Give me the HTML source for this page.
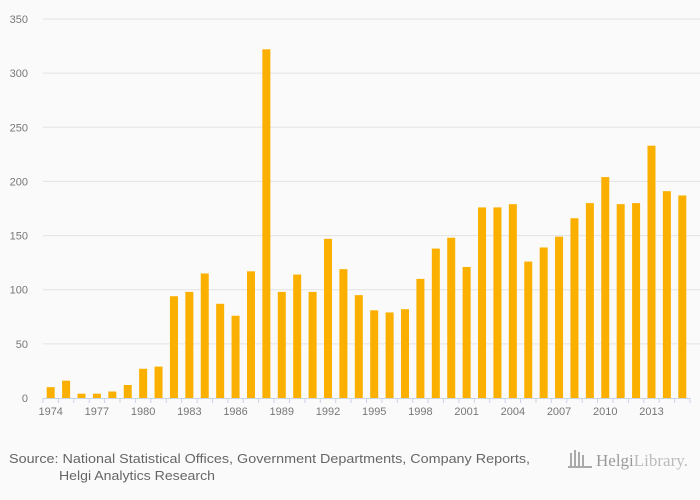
<!DOCTYPE html>
<html><head><meta charset="utf-8"><style>
body{margin:0;background:#fafafa;font-family:"Liberation Sans",sans-serif;}
svg{display:block}
</style></head><body>
<svg width="700" height="500">
<rect width="700" height="500" fill="#fafafa"/>
<g id="grid"></g><g id="bars"></g><g id="axis"></g>
<text x="9" y="463" font-size="13" fill="#666" textLength="521" lengthAdjust="spacingAndGlyphs">Source: National Statistical Offices, Government Departments, Company Reports,</text>
<text x="59" y="480" font-size="13" fill="#666" textLength="156" lengthAdjust="spacingAndGlyphs">Helgi Analytics Research</text>
<g>
<rect x="570" y="453" width="2" height="14" fill="#aaa"/><rect x="574" y="450" width="2" height="17" fill="#aaa"/><rect x="578" y="452" width="2" height="15" fill="#aaa"/><rect x="582" y="455" width="2" height="12" fill="#aaa"/><rect x="568" y="466" width="24" height="2" fill="#aaa"/>
<text x="596" y="466" font-size="17" fill="#999" font-family="Liberation Serif,serif">Helgi<tspan fill="#bbb">Library.</tspan></text>
</g>
</svg>
<script>
const years=[];for(let y=1974;y<=2015;y++)years.push(y);
const values=[10,16,4,4,6,12,27,29,94,98,115,87,76,117,322,98,114,98,147,119,95,81,79,82,110,138,148,121,176,176,179,126,139,149,166,180,204,179,180,233,191,187];
const yTicks=[0,50,100,150,200,250,300,350];
const NS="http://www.w3.org/2000/svg";
const x0=43,x1=690,y0=398,yTop=19,yMax=350;
const band=(x1-x0)/years.length;
const ys=v=>y0-(v/yMax)*(y0-yTop);
const xs=i=>x0+i*band;
function mk(t,a,p){const e=document.createElementNS(NS,t);for(const k in a)e.setAttribute(k,a[k]);p.appendChild(e);return e;}
const grid=document.getElementById('grid'),bars=document.getElementById('bars'),axis=document.getElementById('axis');
yTicks.forEach(t=>{
 if(t>0){const l=mk('line',{x1:x0,x2:700,y1:ys(t),y2:ys(t),stroke:'#e3e3e3'},grid);
 
 }
 const tx=mk('text',{x:28,y:ys(t)+4,'font-size':11,fill:'#777','text-anchor':'end'},grid);tx.textContent=t;
 
 
});
values.forEach((v,i)=>{
 const r=mk('rect',{x:xs(i)+band/2-4,y:ys(v),width:8,height:y0-ys(v),fill:'#fbb000'},bars);
 
 
});
const al=mk('line',{x1:x0,x2:x1,y1:y0+0.5,y2:y0+0.5,stroke:'#c8d4e6'},axis);


for(let i=0;i<=years.length;i++){mk('line',{x1:xs(i),x2:xs(i),y1:y0,y2:y0+5,stroke:'#c8d4e6'},axis);}
years.forEach((yr,i)=>{if((yr-1974)%3===0){
 const t=mk('text',{x:xs(i)+band/2,y:y0+17,'font-size':11,fill:'#777','text-anchor':'middle'},axis);t.textContent=yr;
 
 
}});
</script>
</body></html>
